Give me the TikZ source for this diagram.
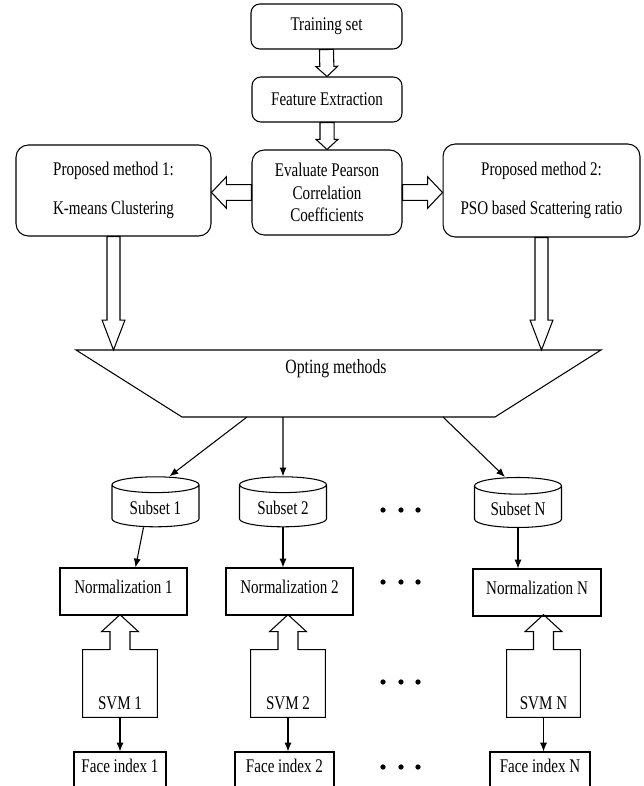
\documentclass[tikz,border=0pt]{standalone}
\usepackage{fontspec}
\setmainfont{Liberation Serif}[FakeStretch=0.78]
\usetikzlibrary{calc,shapes.geometric,arrows.meta}

\tikzset{boite/.style = {draw, rounded corners=#1, align=center, line width=0.6pt},
         boite/.default=5pt,
         carre/.style = {draw, rectangle, line width=0.6pt, inner ysep=0pt},
         base/.style = {draw, cylinder, shape border rotate=90, aspect=0.25,
                        minimum width=1.74cm, minimum height=1cm, line width=0.6pt},
         fleche/.style = {-{Latex[length=5pt,width=4pt]}, line width=0.6pt},
         creuse/.style n args = {3}{draw, fill=white, line width=0.6pt,
             to path={($(\tikztotarget)!#3!(\tikztostart)$) coordinate (hb)
                      ($(\tikztostart)!#1!90:(\tikztotarget)$) -- ($(hb)!#1!90:(\tikztotarget)$)
                      -- ($(hb)!#2!90:(\tikztotarget)$) -- (\tikztotarget)
                      -- ($(hb)!#2!-90:(\tikztotarget)$) -- ($(hb)!#1!-90:(\tikztotarget)$)
                      -- ($(\tikztostart)!#1!-90:(\tikztotarget)$) -- cycle}}
        }

\begin{document}
\begin{tikzpicture}[x=0.02cm, y=-0.02cm, font=\fontsize{11}{13}\selectfont]
\useasboundingbox (0,0) rectangle (644,786);
% top of the chain
\node[boite, minimum width=3.02cm, minimum height=0.9cm] at (326.5,26.5) (ts) {Training set};
\node[boite, minimum width=3cm, minimum height=0.9cm] at (327,99.5) (fe) {Feature Extraction};
\node[boite=7pt, minimum width=3cm, minimum height=1.7cm] at (327,192.5) (ev) {Evaluate Pearson\\Correlation\\Coefficients};
\node[boite=7pt, minimum width=3.9cm, minimum height=1.82cm] at (113.5,190.5) (pm1) {Proposed method 1:\\[9pt]K-means Clustering};
\node[boite=7pt, minimum width=3.94cm, minimum height=1.86cm] at (541.5,190.5) (pm2) {Proposed method 2:\\[9pt]PSO based Scattering ratio};

% opting methods
\draw[line width=0.6pt] (76,350) coordinate (opnw) -- (601,350) -- (495,417) -- (182,417) -- cycle;
\node at (336,369) (op) {\fontsize{11.5}{13}\selectfont Opting methods};
\coordinate (ob1) at (247,417);
\coordinate (ob2) at (283,417);
\coordinate (obN) at (443,417);

\draw[creuse={4pt}{6.2pt}{5.7pt}] (ts.south) to (fe.north);
\draw[creuse={4pt}{6.2pt}{5.7pt}] (fe.south) to (ev.north);
\draw[creuse={4.5pt}{9pt}{8.5pt}] (ev.west) to (ev.west -| pm1.east);
\draw[creuse={4.5pt}{9pt}{8.5pt}] (ev.east) to (ev.east -| pm2.west);
\draw[creuse={3.7pt}{6.5pt}{17pt}] (pm1.south) to (pm1.south |- opnw);
\draw[creuse={3.7pt}{6.5pt}{17pt}] (pm2.south) to (pm2.south |- opnw);

% subsets
\node[base] at (155.5,508) (sub1) {Subset 1};
\node[base] at (283,508) (sub2) {Subset 2};
\node[base] at (518,509) (subN) {Subset N};
\node[carre, minimum width=2.54cm, text height=0.5cm, text depth=0.44cm] at (123.5,591.5) (nor1) {Normalization 1};
\node[carre, minimum width=2.54cm, text height=0.5cm, text depth=0.44cm] at (289.5,591.5) (nor2) {Normalization 2};
\node[carre, minimum width=2.56cm, text height=0.5cm, text depth=0.44cm] at (537,592.5) (norN) {Normalization N};
\node[minimum width=1.48cm, text height=1.18cm, text depth=0.16cm, inner ysep=0pt] at (120,683.5) (svm1) {SVM 1};
\node[minimum width=1.48cm, text height=1.18cm, text depth=0.16cm, inner ysep=0pt] at (288,683.5) (svm2) {SVM 2};
\node[minimum width=1.46cm, text height=1.18cm, text depth=0.16cm, inner ysep=0pt] at (543.5,683.5) (svmN) {SVM N};
\node[carre, minimum width=1.84cm, text height=0.4cm, text depth=0.36cm] at (120,771) (fi1) {Face index 1};
\node[carre, minimum width=1.98cm, text height=0.4cm, text depth=0.36cm] at (284.5,771) (fi2) {Face index 2};
\node[carre, minimum width=2cm, text height=0.4cm, text depth=0.36cm] at (540,771) (fiN) {Face index N};

\draw[fleche] (ob1) -- ($(sub1.north)+(14,0)$);
\draw[fleche] (ob2) -- (sub2.north);
\draw[fleche] (obN) -- ($(subN.north)+(-13,0)$);
\draw[fleche] ($(sub1.south)+(-12,0)$) -- ($(nor1.north)+(12,0)$);
\draw[fleche] (sub2.south) -- (sub2.south |- nor2.north);
\draw[fleche] (subN.south) -- (subN.south |- norN.north);

% svm outlines with their arrow to the normalization
\foreach \s in {svm1,svm2,svmN}{
  \draw[line width=0.6pt] (\s.north west) -- ([xshift=-0.2cm]\s.north) -- ([xshift=-0.2cm,yshift=0.36cm]\s.north)
    -- ([xshift=-0.37cm,yshift=0.36cm]\s.north) -- ([yshift=0.7cm]\s.north)
    -- ([xshift=0.37cm,yshift=0.36cm]\s.north) -- ([xshift=0.2cm,yshift=0.36cm]\s.north)
    -- ([xshift=0.2cm]\s.north) -- (\s.north east) -- (\s.south east) -- (\s.south west) -- cycle;
}
\draw[fleche] (svm1.south) -- (svm1.south |- fi1.north);
\draw[fleche] (svm2.south) -- (svm2.south |- fi2.north);
\draw[fleche] (svmN.south) -- (svmN.south |- fiN.north);

% dots
\foreach \y in {510,582,682,767}
  \foreach \x in {383,401,418}
    \fill (\x,\y) circle (1.5pt);
\end{tikzpicture}
\end{document}
